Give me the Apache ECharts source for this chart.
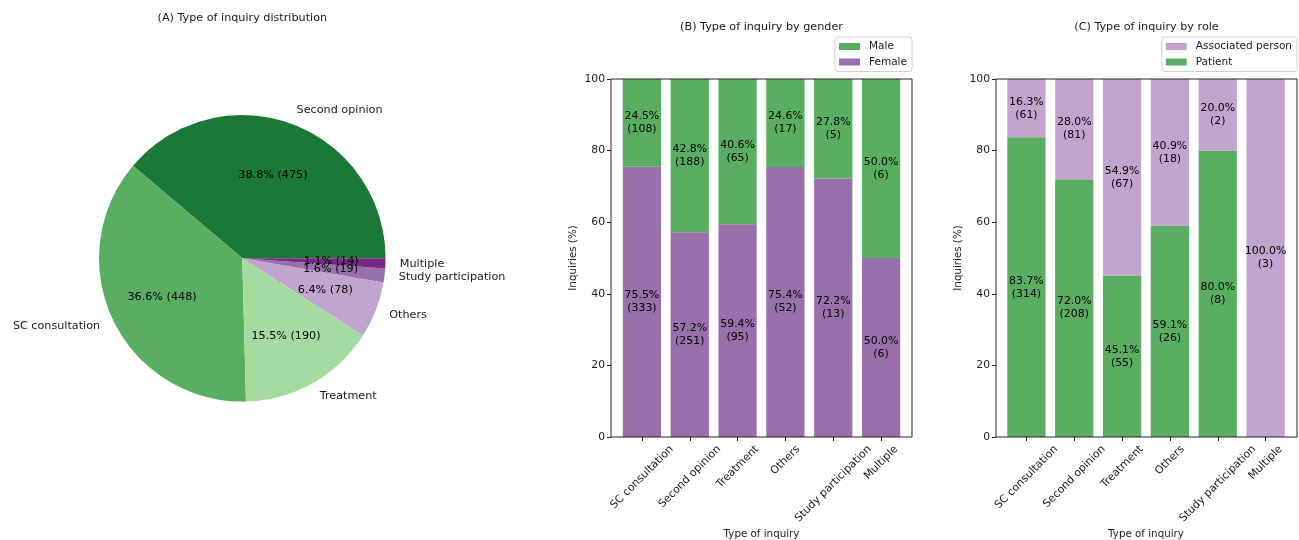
<!DOCTYPE html>
<html>
<head>
<meta charset="utf-8">
<script src="https://cdn.jsdelivr.net/npm/echarts@6/dist/echarts.min.js"></script>
<style>
html, body { margin: 0; padding: 0; background: #fff; }
#chart { width: 1299px; height: 540px; }
</style>
</head>
<body>
<div id="chart"></div>
<script>
// (A) overall distribution, in pie drawing order
const pieNames = ['Second opinion', 'SC consultation', 'Treatment', 'Others', 'Study participation', 'Multiple'];
const pieCounts = [475, 448, 190, 78, 19, 14];

// (B) and (C) share these categories
const categories = ['SC consultation', 'Second opinion', 'Treatment', 'Others', 'Study participation', 'Multiple'];

// (B) by gender
const femalePct = [75.5, 57.2, 59.4, 75.4, 72.2, 50.0];
const femaleN   = [333, 251, 95, 52, 13, 6];
const malePct   = [24.5, 42.8, 40.6, 24.6, 27.8, 50.0];
const maleN     = [108, 188, 65, 17, 5, 6];

// (C) by role
const patientPct = [83.7, 72.0, 45.1, 59.1, 80.0, 0];
const patientN   = [314, 208, 55, 26, 8, 0];
const assocPct   = [16.3, 28.0, 54.9, 40.9, 20.0, 100.0];
const assocN     = [61, 81, 67, 18, 2, 3];

const yTicks = [0, 20, 40, 60, 80, 100];

const FONT = '"DejaVu Sans", "Liberation Sans", sans-serif';
const TXT = '#1a1a1a';
const AX = '#222';
const pieColors = ['#1b7837', '#5aae61', '#a6dba0', '#c2a5cf', '#9970ab', '#762a83'];
const GREEN = '#5aae61', PURPLE = '#9970ab', LILAC = '#c2a5cf';

const total = pieCounts.reduce((a, b) => a + b, 0);
const pieData = pieNames.map((n, i) => ({ name: n, value: pieCounts[i], itemStyle: { color: pieColors[i] } }));

// Rotated tick labels: centred horizontally on their tick, with the top of
// the rotated bounding box a fixed distance below the axis line.
const TICK_FS = 10.8;
const TICK_LH = 13;
const measureCtx = document.createElement('canvas').getContext('2d');
measureCtx.font = TICK_FS + 'px ' + FONT;
const BOX_H = 12.6;   // text height used for the rotated bounding box
const TOP_GAP = 6;    // axis line -> top of rotated box
function catItems() {
  return categories.map(c => {
    const w = measureCtx.measureText(c).width;
    const down = TOP_GAP + (w + BOX_H) / (2 * Math.SQRT2); // screen drop of text centre
    const b = down / Math.SQRT2;                           // shift along local "down"
    const padTop = Math.max(0, b - TICK_LH / 2);
    const padRight = 2 * b;                                // shift back along the text
    return {
      value: c,
      textStyle: { align: 'center', verticalAlign: 'top', lineHeight: TICK_LH,
                   padding: [padTop, padRight, 0, 0] }
    };
  });
}

const R = 143.3, CX = 242.3, CY = 258.3;

function pctLabel(pct, n) {
  return function (p) {
    const v = pct[p.dataIndex];
    if (!v) return '';
    return v.toFixed(1) + '%\n(' + n[p.dataIndex] + ')';
  };
}

function frameGrid(left) {
  return { left: left, top: 79, width: 301, height: 358, show: true, borderColor: AX, borderWidth: 1,
           backgroundColor: 'transparent', z: 5, containLabel: false, outerBoundsMode: 'none' };
}
function dataGrid(left) {
  return { left: left, top: 79, width: 287, height: 358, containLabel: false, outerBoundsMode: 'none' };
}

function dataX(gridIndex) {
  return {
    type: 'category', gridIndex: gridIndex, data: catItems(),
    axisLine: { show: false },
    axisTick: { show: true, alignWithLabel: true, length: 4, lineStyle: { color: AX, width: 1 } },
    axisLabel: { interval: 0, rotate: 45, margin: 0, hideOverlap: false,
                 fontSize: TICK_FS, fontFamily: FONT, color: TXT },
    name: 'Type of inquiry', nameLocation: 'middle', nameGap: 92, nameMoveOverlap: false,
    nameTextStyle: { fontSize: 10.3, fontFamily: FONT, color: TXT }
  };
}

function dataY(gridIndex, offset) {
  return {
    type: 'value', gridIndex: gridIndex, min: yTicks[0], max: yTicks[yTicks.length - 1], interval: 20,
    offset: offset,
    axisLine: { show: false },
    axisTick: { show: true, length: 4, lineStyle: { color: AX, width: 1 } },
    splitLine: { show: false },
    axisLabel: { margin: 6, fontSize: TICK_FS, fontFamily: FONT, color: TXT },
    name: 'Inquiries (%)', nameLocation: 'middle', nameGap: 33, nameMoveOverlap: false,
    nameTextStyle: { fontSize: 10.3, fontFamily: FONT, color: TXT }
  };
}

function barSeries(name, x, y, vals, n, color) {
  return {
    name: name, type: 'bar', stack: 's' + x, xAxisIndex: x, yAxisIndex: y,
    data: vals, barCategoryGap: '20%', itemStyle: { color: color },
    emphasis: { disabled: true },
    label: { show: true, position: 'inside', formatter: pctLabel(vals, n),
             fontSize: 10.9, lineHeight: 13, fontFamily: FONT, color: '#000' }
  };
}

function legend(names, right) {
  return {
    data: names, orient: 'vertical', right: right, top: 37, icon: 'rect',
    itemWidth: 21, itemHeight: 7, itemGap: 2.5, padding: [3, 5, 3, 4],
    borderColor: '#d0d0d0', borderWidth: 1, borderRadius: 3, backgroundColor: '#fff',
    textStyle: { fontSize: 10.5, fontFamily: FONT, color: TXT, lineHeight: 13, padding: [0, 0, 0, 4] },
    selectedMode: false
  };
}

const titleStyle = { fontSize: 11.2, fontWeight: 'normal', fontFamily: FONT, color: TXT };

// inner percentage labels of the pie; the thinnest slice gets its own layer
function innerPie(showIndex, hideIndex) {
  return {
    type: 'pie', center: [CX, CY], radius: [R * 0.2, R], startAngle: 0, clockwise: false,
    avoidLabelOverlap: false, minShowLabelAngle: 0, silent: true, z: 3,
    labelLayout: { hideOverlap: false },
    data: pieData.map((d, i) => ({
      name: d.name, value: d.value,
      label: { show: showIndex == null ? i !== hideIndex : i === showIndex }
    })),
    itemStyle: { color: 'rgba(0,0,0,0)', borderWidth: 0 },
    emphasis: { disabled: true },
    label: { position: 'inside', fontSize: 11.2, fontFamily: FONT, color: '#000',
             formatter: p => (p.value / total * 100).toFixed(1) + '% (' + p.value + ')' },
    labelLine: { show: false }
  };
}

const option = {
  animation: false,
  backgroundColor: '#fff',
  textStyle: { fontFamily: FONT },
  title: [
    { text: '(A) Type of inquiry distribution', left: CX, top: 13, textAlign: 'center', padding: 0, textStyle: titleStyle },
    { text: '(B) Type of inquiry by gender', left: 761.5, top: 22, textAlign: 'center', padding: 0, textStyle: titleStyle },
    { text: '(C) Type of inquiry by role', left: 1146.5, top: 22, textAlign: 'center', padding: 0, textStyle: titleStyle }
  ],
  legend: [legend(['Male', 'Female'], 387), legend(['Associated person', 'Patient'], 2)],
  grid: [frameGrid(611), dataGrid(618), frameGrid(996), dataGrid(1002.5)],
  xAxis: [
    { type: 'value', gridIndex: 0, show: false },
    dataX(1),
    { type: 'value', gridIndex: 2, show: false },
    dataX(3)
  ],
  yAxis: [
    { type: 'value', gridIndex: 0, show: false },
    dataY(1, 7),
    { type: 'value', gridIndex: 2, show: false },
    dataY(3, 6.5)
  ],
  series: [
    {
      type: 'pie', center: [CX, CY], radius: R, startAngle: 0, clockwise: false,
      avoidLabelOverlap: false, data: pieData, silent: true,
      labelLayout: { hideOverlap: false },
      itemStyle: { borderWidth: 0 },
      emphasis: { disabled: true },
      label: { show: true, position: 'outside', formatter: '{b}', fontSize: 11.2, fontFamily: FONT,
               color: TXT, distanceToLabelLine: 0 },
      labelLine: { show: false, length: R * 0.1, length2: 0 }
    },
    innerPie(null, 5),
    innerPie(5, null),
    barSeries('Female', 1, 1, femalePct, femaleN, PURPLE),
    barSeries('Male', 1, 1, malePct, maleN, GREEN),
    barSeries('Patient', 3, 3, patientPct, patientN, GREEN),
    barSeries('Associated person', 3, 3, assocPct, assocN, LILAC)
  ]
};

const chart = echarts.init(document.getElementById('chart'), null, { renderer: 'canvas' });
chart.setOption(option);
</script>
</body>
</html>
